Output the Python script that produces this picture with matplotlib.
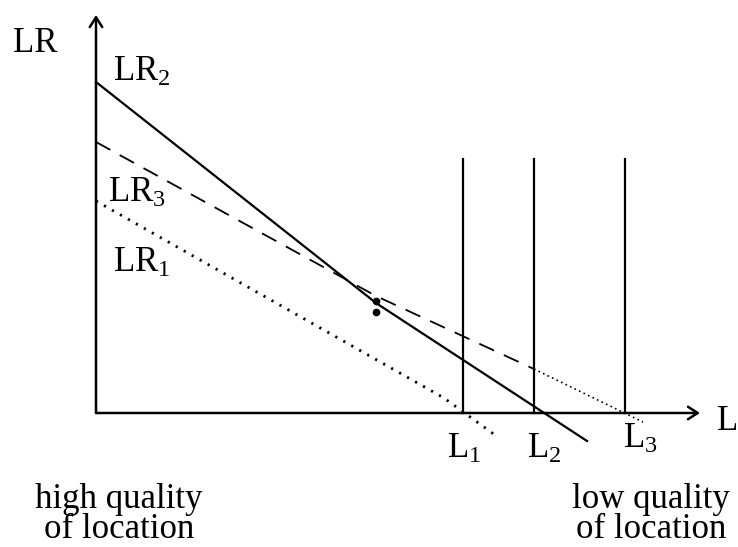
import matplotlib.pyplot as plt

plt.rcParams['font.family'] = ['Liberation Serif', 'DejaVu Serif']
plt.rcParams['mathtext.fontset'] = 'custom'
plt.rcParams['mathtext.rm'] = 'Liberation Serif'
plt.rcParams['mathtext.it'] = 'Liberation Serif:italic'

# Curvas de renta (unidades arbitrarias, origen en la esquina de los ejes)
lr2_x = [0.0, 28.0, 49.1]
lr2_y = [33.1, 11.0, -2.8]
lr3_x = [0.0, 28.0, 43.8]
lr3_y = [27.1, 11.7, 4.4]
lr3_ext_x = [43.8, 54.7]
lr3_ext_y = [4.4, -0.9]
lr1_x = [0.0, 34.8, 39.9]
lr1_y = [21.2, 1.5, -2.2]

# Puntos de interseccion
dots_x = [28.0, 28.0]
dots_y = [11.2, 10.1]

# Limites L1, L2, L3
l_x = [36.7, 43.8, 52.9]
l_top = 25.4
l_labels = [r'L$_{\mathrm{1}}$', r'L$_{\mathrm{2}}$', r'L$_{\mathrm{3}}$']
lr_labels = [r'LR$_{\mathrm{2}}$', r'LR$_{\mathrm{3}}$', r'LR$_{\mathrm{1}}$']
bottom_labels = ['high quality\nof location', 'low quality\nof location']

fig = plt.figure(figsize=(7.38, 5.47), dpi=100)
ax = fig.add_axes([0, 0, 1, 1])
ax.set_xlim(-9.6, 64.2)
ax.set_ylim(-13.4, 41.3)
ax.axis('off')

# Ejes con flecha
arrow = dict(arrowstyle='->,head_length=0.7,head_width=0.45', lw=1.8,
             color='black', shrinkA=0, shrinkB=0)
ax.annotate('', xy=(0, 39.8), xytext=(0, 0), arrowprops=arrow)
ax.annotate('', xy=(60.4, 0), xytext=(0, 0), arrowprops=arrow)

# Curvas
ax.plot(lr2_x, lr2_y, color='black', lw=1.6)
ax.plot(lr3_x, lr3_y, color='black', lw=1.3, linestyle=(0, (9, 6)))
ax.plot(lr3_ext_x, lr3_ext_y, color='black', lw=1.2, linestyle=(0, (1, 2)))
ax.plot(lr1_x, lr1_y, color='black', lw=2.0, linestyle=(0, (0.8, 2.5)))
ax.plot(dots_x, dots_y, 'o', color='black', markersize=4.5, linestyle='none')

for x in l_x:
    ax.plot([x, x], [0, l_top], color='black', lw=1.6)

fs = 25
ax.text(-8.3, 36.1, 'LR', fontsize=fs, va='baseline')
ax.text(1.7, 33.2, lr_labels[0], fontsize=fs, va='baseline')
ax.text(1.2, 21.1, lr_labels[1], fontsize=fs, va='baseline')
ax.text(1.7, 14.1, lr_labels[2], fontsize=fs, va='baseline')
ax.text(62.1, -1.7, 'L', fontsize=fs, va='baseline')
ax.text(35.1, -4.5, l_labels[0], fontsize=fs, va='baseline')
ax.text(43.1, -4.5, l_labels[1], fontsize=fs, va='baseline')
ax.text(52.7, -3.5, l_labels[2], fontsize=fs, va='baseline')

ax.text(2.3, -13.3, bottom_labels[0], fontsize=fs, ha='center', va='bottom',
        multialignment='center', linespacing=0.86)
ax.text(55.5, -13.3, bottom_labels[1], fontsize=fs, ha='center', va='bottom',
        multialignment='center', linespacing=0.86)

fig.savefig('out.png', dpi=100, facecolor='white')
